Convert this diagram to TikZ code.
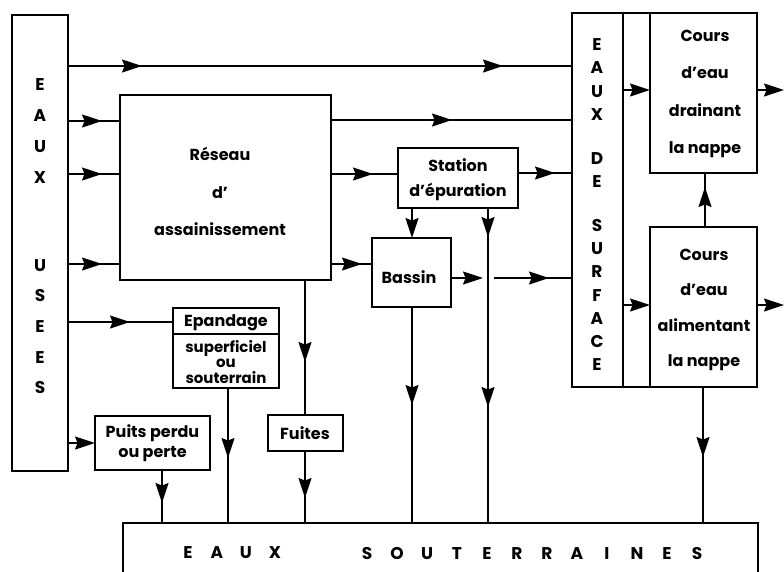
\documentclass[tikz,border=0pt]{standalone}
\usepackage{fontspec}
\setmainfont{Poppins}
\usetikzlibrary{arrows.meta,decorations.markings}
\begin{document}
\begin{tikzpicture}[x=1pt,y=-1pt,
  box/.style={draw, line width=2.2pt, inner sep=0pt, outer sep=0pt},
  conn/.style={line width=1.3pt},
  tipsty/.tip={Stealth[length=20pt,width=13pt,inset=2.5pt]},
  endarr/.style={conn,-{Stealth[length=20pt,width=13pt,inset=2.5pt]}},
  arr/.style={conn, decoration={markings, mark=at position #1 with {\arrow{tipsty}}}, postaction={decorate}},
  arrtwo/.style 2 args={conn, decoration={markings, mark=at position #1 with {\arrow{tipsty}}, mark=at position #2 with {\arrow{tipsty}}}, postaction={decorate}},
  lbl/.style={font=\bfseries\fontsize{16}{#1}\selectfont, align=center, inner sep=0pt},
  lbl/.default=18,
  caps/.style={font=\bfseries\fontsize{17}{#1}\selectfont, align=center, inner sep=0pt},
  caps/.default=18,
  small/.style={font=\bfseries\fontsize{15}{#1}\selectfont, align=center, inner sep=0pt}
]
\clip (0,0) rectangle (784,571);
% boxes
\node[box, minimum width=56pt, minimum height=456pt] (usees) at (40,243) {};
\node[box, minimum width=211pt, minimum height=185pt] (reseau) at (225.5,187.5) {};
\node[box, minimum width=120pt, minimum height=60pt] (station) at (458,178) {};
\node[box, minimum width=79pt, minimum height=69pt] (bassin) at (411.5,272.5) {};
\node[box, minimum width=51pt, minimum height=374pt] (surf) at (597.5,200) {};
\node[box, minimum width=107pt, minimum height=160pt] (drain) at (703.5,93) {};
\node[box, minimum width=107pt, minimum height=160pt] (alim) at (703.5,307) {};
\node[box, minimum width=106pt, minimum height=80pt] (epand) at (226,348) {};
\node[box, minimum width=115pt, minimum height=54pt] (puits) at (152.5,443) {};
\node[box, minimum width=75pt, minimum height=36pt] (fuites) at (305.5,433) {};
\node[box, minimum width=635pt, minimum height=77pt] (sout) at (440.5,561.5) {};
\draw[line width=2.2pt] (surf.north east) -- (drain.north west);
\draw[line width=2.2pt] (surf.south east) -- (alim.south west);
\draw[line width=2.2pt] (epand.west |- 0,334) -- (epand.east |- 0,334);
% texts
\node[caps=31] (tu1) at (40,131.5) {E\\A\\U\\X};
\node[caps=30.7] (tu2) at (40,326.5) {U\\S\\E\\E\\S};
\node[caps=23.3] (ts1) at (597,79.5) {E\\A\\U\\X};
\node[caps=23.3] (ts2) at (597,170) {D\\E};
\node[caps=23.3] (ts3) at (597,295) {S\\U\\R\\F\\A\\C\\E};
\node[lbl=37.5] (tres) at (220,191.5) {Réseau\\d’\\assainissement};
\node[lbl=25] (tsta) at (458,179.5) {Station\\d’épuration};
\node[lbl] (tbas) at (409,277) {Bassin};
\node[lbl=37.3] (tdra) at (705,94) {Cours\\d’eau\\drainant\\la nappe};
\node[lbl=35.3] (tali) at (704,310) {Cours\\d’eau\\alimentant\\la nappe};
\node[lbl] (tepa) at (226,323) {Epandage};
\node[small=15.5] (tsup) at (226,362) {superficiel\\ou\\souterrain};
\node[lbl=20] (tpui) at (152.5,443) {Puits perdu\\ou perte};
\node[lbl] (tfui) at (305,433) {Fuites};
\node[caps] (tso1) at (231.5,553) {\makebox[29pt]{E}\makebox[29pt]{A}\makebox[29pt]{U}\makebox[29pt]{X}};
\node[caps] (tso2) at (532,553) {\makebox[30pt]{S}\makebox[30pt]{O}\makebox[30pt]{U}\makebox[30pt]{T}\makebox[30pt]{E}\makebox[30pt]{R}\makebox[30pt]{R}\makebox[30pt]{A}\makebox[30pt]{I}\makebox[30pt]{N}\makebox[30pt]{E}\makebox[30pt]{S}};
% connectors
\draw[arrtwo={74pt}{435pt}] (usees.east |- 0,66) -- (surf.west |- 0,66);
\draw[arr=34pt] (usees.east |- 0,121) -- (reseau.west |- 0,121);
\draw[arr=34pt] (usees.east |- 0,174) -- (reseau.west |- 0,174);
\draw[arr=34pt] (usees.east |- 0,264) -- (reseau.west |- 0,264);
\draw[arr=62pt] (usees.east |- 0,322) -- (epand.west |- 0,322);
\draw[endarr] (usees.east |- 0,443) -- (puits.west |- 0,443);
\draw[arr=121pt] (reseau.east |- 0,120) -- (surf.west |- 0,120);
\draw[arr=42pt] (reseau.east |- 0,174) -- (station.west |- 0,174);
\draw[arr=31pt] (reseau.east |- 0,264) -- (bassin.west |- 0,264);
\draw[arr=37pt] (station.east |- 0,173) -- (surf.west |- 0,173);
\draw[endarr] (station.south -| 412,0) -- (bassin.north -| 412,0);
\draw[arrtwo={29pt}{199pt}] (station.south -| 488,0) -- (sout.north -| 488,0);
\coordinate (bgap1) at (483,278);
\coordinate (bgap2) at (494,278);
\draw[endarr] (bassin.east |- 0,278) -- (bgap1);
\draw[arr=55pt] (bgap2) -- (surf.west |- 0,278);
\draw[arr=98pt] (bassin.south -| 412,0) -- (sout.north -| 412,0);
\draw[arr=82pt] (reseau.south -| 305,0) -- (fuites.north -| 305,0);
\draw[arr=47pt] (fuites.south -| 305,0) -- (sout.north -| 305,0);
\draw[arr=70pt] (epand.south -| 228,0) -- (sout.north -| 228,0);
\draw[arr=33pt] (puits.south -| 162,0) -- (sout.north -| 162,0);
\draw[arr=70pt] (alim.south -| 703,0) -- (sout.north -| 703,0);
\draw[arr=40pt] (alim.north -| 705,0) -- (drain.south -| 705,0);
\draw[endarr] (surf.east |- 0,90) -- (drain.west |- 0,90);
\draw[endarr] (surf.east |- 0,305) -- (alim.west |- 0,305);
\coordinate (odra) at (784,90);
\coordinate (oali) at (784,305);
\draw[endarr] (drain.east |- 0,90) -- (odra);
\draw[endarr] (alim.east |- 0,305) -- (oali);
\end{tikzpicture}
\end{document}
